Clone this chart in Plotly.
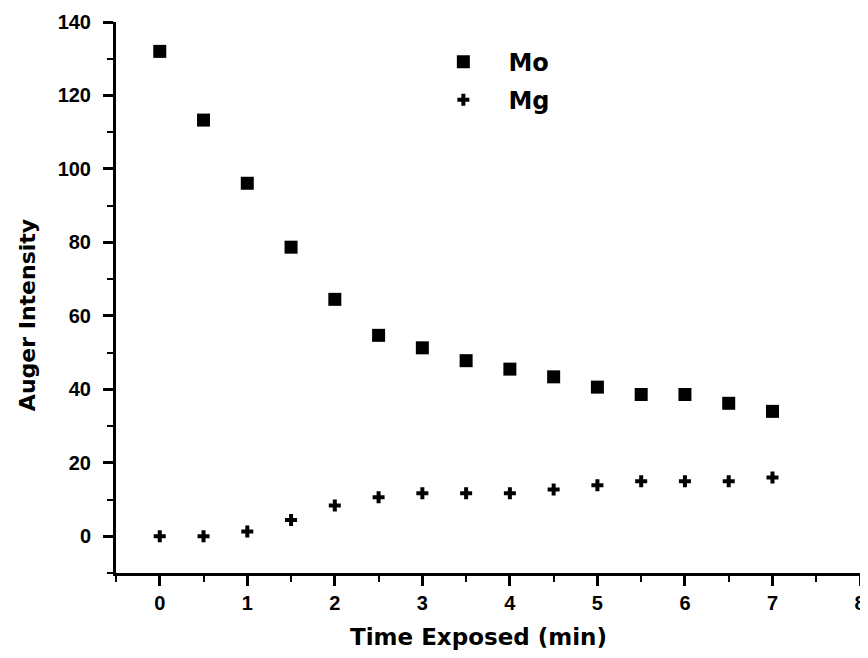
import plotly.graph_objects as go

time_min = [0, 0.5, 1, 1.5, 2, 2.5, 3, 3.5, 4, 4.5, 5, 5.5, 6, 6.5, 7]
mo_intensity = [132, 113.3, 96.1, 78.7, 64.5, 54.7, 51.3, 47.8, 45.5, 43.4, 40.6, 38.6, 38.6, 36.2, 34.0]
mg_intensity = [0, 0, 1.3, 4.4, 8.4, 10.6, 11.7, 11.7, 11.7, 12.7, 13.9, 15.0, 15.0, 15.0, 16.0]
x_ticks = list(range(0, 9))
y_ticks = list(range(0, 141, 20))
x_title = "Time Exposed (min)"
y_title = "Auger Intensity"

TICKFONT = "Liberation Sans"
TITLEFONT = "DejaVu Sans"
NB = "\u00a0"

fig = go.Figure()
fig.add_trace(go.Scatter(
    x=time_min, y=mo_intensity, mode="markers", name=NB * 3 + "Mo", legend="legend", showlegend=True,
    marker=dict(symbol="square", size=13, color="black", line=dict(width=0)),
))
fig.add_trace(go.Scatter(
    x=time_min, y=mg_intensity, mode="markers", name=NB * 3 + "Mg", legend="legend2", showlegend=True,
    marker=dict(symbol="cross", size=10, color="black", line=dict(width=0)),
))

axis_common = dict(
    showgrid=False, zeroline=False, showline=True, linecolor="black", linewidth=3,
    ticks="outside", tickwidth=2.5, ticklen=10, tickcolor="black",
    tickfont=dict(family=TICKFONT, size=20, color="black", weight="bold"),
    mirror=False, automargin=False,
)

legend_common = dict(
    xanchor="left", yanchor="middle",
    bgcolor="rgba(0,0,0,0)", borderwidth=0,
    font=dict(family=TITLEFONT, size=24, color="black", weight="bold"),
    visible=True,
)

fig.update_layout(
    width=860, height=650,
    margin=dict(l=108, r=8, t=14, b=85),
    paper_bgcolor="white", plot_bgcolor="white",
    showlegend=True,
    xaxis=dict(
        range=[-0.5, 8], tickmode="array", tickvals=x_ticks,
        minor=dict(tickmode="array", tickvals=[-0.5 + 0.5 * i for i in range(18)],
                   ticks="outside", ticklen=6, tickwidth=2, tickcolor="black"),
        **axis_common,
    ),
    yaxis=dict(
        range=[-10, 140], tickmode="array", tickvals=y_ticks,
        minor=dict(tickmode="array", tickvals=list(range(-10, 141, 10)),
                   ticks="outside", ticklen=6, tickwidth=2, tickcolor="black"),
        ticklabelstandoff=8,
        **axis_common,
    ),
    legend=dict(x=0.44, y=0.927, **legend_common),
    legend2=dict(x=0.44, y=0.858, **legend_common),
    annotations=[
        dict(text=x_title, xref="paper", yref="paper", x=0.4866, y=-0.116,
             xanchor="center", yanchor="middle", showarrow=False,
             font=dict(family=TITLEFONT, size=23, color="black", weight="bold")),
        dict(text=y_title, xref="paper", yref="paper", x=-0.1196, y=0.468,
             xanchor="center", yanchor="middle", showarrow=False, textangle=-90,
             font=dict(family=TITLEFONT, size=22, color="black", weight="bold")),
    ],
)

fig.write_html("out.html")
